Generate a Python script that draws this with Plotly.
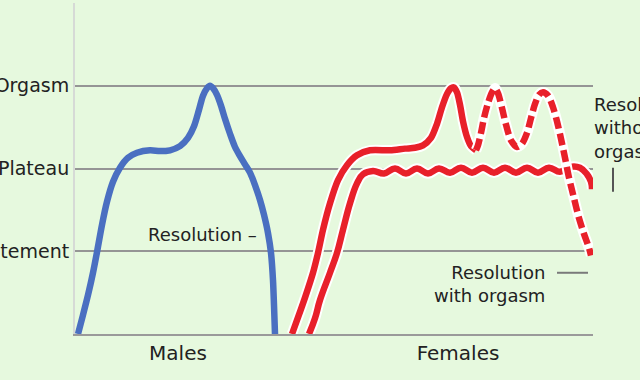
import plotly.graph_objects as go

# ---- data (time in arbitrary units, arousal level 0..4) ----
level_vals = [1, 2, 3, 4]
level_text = ["Excitement", "Plateau", "Orgasm", ""]
group_pos = [103, 383]
group_text = ["Males", "Females"]

male_t = [3, 8, 13, 18, 22, 27, 32, 38, 45, 53, 62, 75, 85, 95, 105, 113, 119, 124, 128, 132,
          135, 138, 142, 146, 150, 155, 160, 165, 170, 175, 180, 185, 189, 193, 196, 198, 199, 200]
male_y = [0.00, 0.23, 0.47, 0.74, 0.99, 1.32, 1.60, 1.84, 2.01, 2.13, 2.19, 2.22, 2.21, 2.22,
          2.27, 2.37, 2.51, 2.71, 2.88, 2.97, 3.00, 2.97, 2.89, 2.76, 2.60, 2.42, 2.26, 2.15,
          2.05, 1.95, 1.80, 1.62, 1.44, 1.22, 0.98, 0.65, 0.35, 0.00]

fem_org_t = [217, 223, 230, 238, 243, 248, 255, 263, 272, 282, 295, 315, 330, 340, 348, 356,
             362, 367, 372, 376, 379, 382, 385, 388, 392, 396, 401]
fem_org_y = [0.00, 0.20, 0.44, 0.74, 0.98, 1.26, 1.58, 1.86, 2.04, 2.16, 2.22, 2.22, 2.24, 2.25,
             2.28, 2.37, 2.54, 2.74, 2.90, 2.97, 2.98, 2.92, 2.77, 2.57, 2.38, 2.27, 2.22]

fem_plat_t = [234, 240, 245, 255, 262, 268, 275, 282, 288, 298, 309, 320, 331, 342, 353, 364,
              375, 386, 397, 408, 419, 430, 441, 452, 463, 474, 485, 495, 505, 512, 516, 517]
fem_plat_y = [0.00, 0.19, 0.41, 0.74, 0.98, 1.26, 1.58, 1.82, 1.93, 1.97, 1.94, 2.00, 1.94, 2.00,
              1.94, 2.00, 1.95, 2.01, 1.95, 2.01, 1.95, 2.01, 1.95, 2.01, 1.95, 2.01, 1.96, 2.02,
              2.01, 1.93, 1.84, 1.75]

fem_multi_t = [401, 403, 406, 409, 413, 417, 420, 423, 427, 431, 436, 442, 447, 452, 456, 460,
               464, 468, 473, 478, 482, 486, 490, 494, 499, 504, 509, 514, 516]
fem_multi_y = [2.22, 2.28, 2.43, 2.61, 2.79, 2.92, 2.97, 2.91, 2.73, 2.53, 2.34, 2.26, 2.30, 2.43,
               2.61, 2.78, 2.89, 2.92, 2.88, 2.74, 2.57, 2.36, 2.13, 1.89, 1.64, 1.40, 1.21, 1.04,
               0.95]

BLUE = "#4a6fc1"
RED = "#e8202a"
BG = "#e6f9de"
TXT = "#222222"
FONT = "DejaVu Sans"

fig = go.Figure()

def add_line(t, y, color, width, dash=None, halo=False, smoothing=0.8):
    if halo:
        fig.add_trace(go.Scatter(x=t, y=y, mode="lines", hoverinfo="skip",
                                 line=dict(color="white", width=width + 4, shape="spline",
                                           smoothing=smoothing)))
    fig.add_trace(go.Scatter(x=t, y=y, mode="lines", hoverinfo="skip",
                             line=dict(color=color, width=width, shape="spline",
                                       smoothing=smoothing, dash=dash)))

add_line(male_t, male_y, BLUE, 6.5)
add_line(fem_plat_t, fem_plat_y, RED, 6.5, halo=True, smoothing=1.2)
add_line(fem_org_t, fem_org_y, RED, 6.5, halo=True)
add_line(fem_multi_t, fem_multi_y, RED, 6.5, dash="12px,5px", halo=True)

fig.update_layout(
    width=640, height=380,
    margin=dict(l=75, r=47, t=3, b=46),
    paper_bgcolor=BG, plot_bgcolor=BG,
    showlegend=False,
    font=dict(family=FONT, color=TXT, size=18),
    xaxis=dict(range=[0, 518], tickvals=group_pos, ticktext=group_text,
               showgrid=False, zeroline=False, showline=True, linecolor="#9a9a9a",
               linewidth=2, ticks="", tickfont=dict(size=20, color=TXT),
               automargin=False, fixedrange=True),
    yaxis=dict(range=[0, 4], tickvals=level_vals, ticktext=level_text,
               showgrid=True, gridcolor="#959595", gridwidth=2, zeroline=False,
               showline=True, linecolor="#d6dad6", linewidth=2, ticks="",
               tickfont=dict(size=19, color=TXT), automargin=False, fixedrange=True),
)

fig.add_annotation(x=184, y=1.205, xref="x", yref="y", text="Resolution \u2013",
                   showarrow=False, xanchor="right", yanchor="middle",
                   font=dict(size=18, color=TXT))
fig.add_annotation(x=472, y=0.60, xref="x", yref="y", text="Resolution<br>with orgasm",
                   showarrow=False, xanchor="right", yanchor="middle", align="right",
                   font=dict(size=18, color=TXT))
fig.add_annotation(x=517, y=2.49, xref="x", yref="y", text="Resolution<br>without<br>orgasm",
                   showarrow=False, xanchor="left", yanchor="middle", align="left",
                   font=dict(size=18, color=TXT))

fig.add_shape(type="line", xref="x", yref="y", x0=482, x1=513, y0=0.74, y1=0.74,
              line=dict(color="#7a7a7a", width=2))
fig.add_shape(type="line", xref="paper", yref="paper", x0=538 / 518, x1=538 / 518,
              y0=1.72 / 4, y1=2.01 / 4, line=dict(color="#555555", width=2))

fig.write_html("out.html")
